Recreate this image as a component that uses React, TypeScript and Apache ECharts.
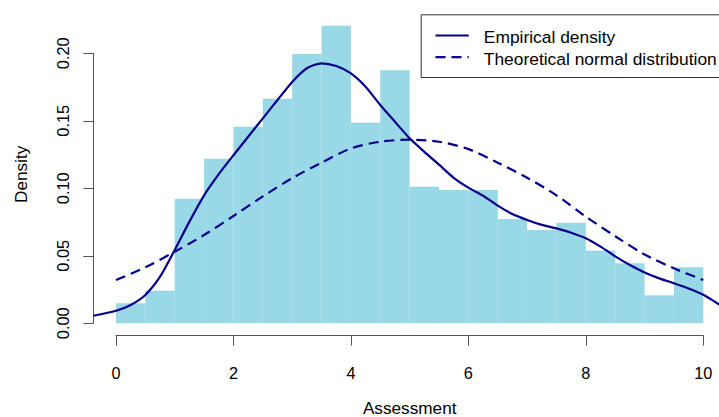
import React, { useEffect, useRef } from "react";
import * as echarts from "echarts";

// Histogram (density scale), bins of width 0.5 from 0 to 10
const binEdges = [0, 0.5, 1, 1.5, 2, 2.5, 3, 3.5, 4, 4.5, 5, 5.5, 6, 6.5, 7, 7.5, 8, 8.5, 9, 9.5, 10];
const densities = [
  0.0148, 0.0241, 0.0923, 0.1219, 0.1456, 0.1664, 0.1995, 0.2204, 0.1486, 0.1874,
  0.1012, 0.0987, 0.0987, 0.0773, 0.0691, 0.0745, 0.0538, 0.0444, 0.0207, 0.0415,
];

// Empirical (kernel) density curve
const empX = [
  -0.39, 0, 0.25, 0.5, 0.75, 1, 1.25, 1.5, 1.75, 2, 2.25, 2.5, 2.75, 3, 3.25, 3.5, 3.75, 4,
  4.25, 4.5, 4.75, 5, 5.25, 5.5, 5.75, 6, 6.25, 6.5, 6.75, 7, 7.25, 7.5, 7.75, 8, 8.25, 8.5,
  8.75, 9, 9.25, 9.5, 9.75, 10, 10.25, 10.4,
];
const empY = [
  0.0056, 0.0093, 0.0136, 0.021, 0.0345, 0.0543, 0.0753, 0.0948, 0.1105, 0.1245, 0.1382,
  0.1518, 0.1654, 0.1788, 0.1889, 0.1926, 0.1906, 0.1852, 0.1753, 0.1617, 0.1493, 0.137,
  0.127, 0.1175, 0.1078, 0.1005, 0.0945, 0.0872, 0.0809, 0.0765, 0.0729, 0.0703, 0.0671, 0.063,
  0.0568, 0.0496, 0.0432, 0.0377, 0.0333, 0.0297, 0.0258, 0.0212, 0.0145, 0.011,
];

// Theoretical normal distribution curve
const normX = [0, 0.5, 1, 1.5, 2, 2.5, 3, 3.5, 4, 4.5, 5, 5.5, 6, 6.5, 7, 7.5, 8, 8.5, 9, 9.5, 10];
const normY = [
  0.0321, 0.0415, 0.053, 0.0654, 0.0795, 0.094, 0.1075, 0.119, 0.1295, 0.1345, 0.136,
  0.1345, 0.129, 0.119, 0.1078, 0.0948, 0.079, 0.0645, 0.051, 0.0407, 0.0321,
];

const xTicks = { min: 0, max: 10, interval: 2 };
const yTicks = { min: 0, max: 0.2, interval: 0.05 };

const seriesNames = ["Empirical density", "Theoretical normal distribution"];
const xLabel = "Assessment";
const yLabel = "Density";

const NAVY = "#00008B";
const FONT = "'Liberation Sans', Arial, sans-serif";

export default function App() {
  const ref = useRef<HTMLDivElement>(null);

  useEffect(() => {
    if (!ref.current) return;
    const chart = echarts.init(ref.current, undefined, { renderer: "svg" });

    const histData = densities.map((d, i) => [binEdges[i], binEdges[i + 1], d]);
    const empData = empX.map((x, i) => [x, empY[i]]);
    const normData = normX.map((x, i) => [x, normY[i]]);

    // plot region in pixels (R-style); canvas is wider than the window so the
    // plot region can extend past the right edge as in the reference
    const W = 740, H = 417;
    const plotLeft = 93.3;
    const plotRight = 726;
    const plotTop = 13;
    const plotBottom = 335.7;
    const x0px = 116, x10px = 703.3;
    const y0px = 323.3, y20px = 53.3;
    const pxPerX = (x10px - x0px) / 10;
    const pxPerY = (y0px - y20px) / 0.2;
    const xMin = (plotLeft - x0px) / pxPerX;
    const xMax = (plotRight - x0px) / pxPerX;
    const yMin = -(plotBottom - y0px) / pxPerY;
    const yMax = (y0px - plotTop) / pxPerY;

    const option: any = {
      animation: false,
      textStyle: { fontFamily: FONT },
      grid: [
        { left: plotLeft, right: W - plotRight, top: plotTop, bottom: H - plotBottom },
        { left: x0px, right: W - x10px, top: plotTop, bottom: H - plotBottom },
        { left: plotLeft, right: W - plotRight, top: y20px, bottom: H - y0px },
      ],
      xAxis: [
        { gridIndex: 0, type: "value", min: xMin, max: xMax, show: false },
        {
          gridIndex: 1,
          type: "value",
          min: xTicks.min,
          max: xTicks.max,
          interval: xTicks.interval,
          position: "bottom",
          axisLine: { show: true, lineStyle: { color: "#555", width: 1 } },
          axisTick: { show: true, length: 10, lineStyle: { color: "#555", width: 1 } },
          axisLabel: { color: "#000", fontSize: 16.3, margin: 29, fontFamily: FONT },
          splitLine: { show: false },
        },
        { gridIndex: 2, type: "value", min: 0, max: 1, show: false },
      ],
      yAxis: [
        {
          gridIndex: 0,
          type: "value",
          min: yMin,
          max: yMax,
          show: true,
          axisLine: { show: false },
          axisTick: { show: false },
          axisLabel: { show: false },
          splitLine: { show: false },
          name: yLabel,
          nameLocation: "middle",
          nameGap: 64,
          nameTextStyle: { color: "#000", fontSize: 17.2, fontFamily: FONT },
        },
        { gridIndex: 1, type: "value", min: 0, max: 1, show: false },
        {
          gridIndex: 2,
          type: "value",
          min: yTicks.min,
          max: yTicks.max,
          interval: yTicks.interval,
          position: "left",
          axisLine: { show: true, lineStyle: { color: "#555", width: 1 } },
          axisTick: { show: true, length: 10, lineStyle: { color: "#555", width: 1 } },
          axisLabel: {
            color: "#000",
            fontSize: 16.3,
            rotate: 90,
            margin: 22,
            fontFamily: FONT,
            formatter: (v: number) => v.toFixed(2),
          },
          splitLine: { show: false },
        },
      ],
      series: [
        {
          type: "custom",
          xAxisIndex: 0,
          yAxisIndex: 0,
          data: histData,
          encode: { x: [0, 1], y: 2 },
          renderItem: (_params: any, api: any) => {
            const a = api.coord([api.value(0), api.value(2)]);
            const b = api.coord([api.value(1), 0]);
            return {
              type: "rect",
              shape: { x: a[0], y: a[1], width: b[0] - a[0], height: b[1] - a[1] },
              style: { fill: "#99d8e6" },
            };
          },
          z: 1,
        },
        {
          name: seriesNames[0],
          type: "line",
          xAxisIndex: 0,
          yAxisIndex: 0,
          data: empData,
          smooth: 0.25,
          symbol: "none",
          showSymbol: false,
          clip: true,
          lineStyle: { color: NAVY, width: 2.2 },
          z: 3,
        },
        {
          name: seriesNames[1],
          type: "line",
          xAxisIndex: 0,
          yAxisIndex: 0,
          data: normData,
          smooth: 0.3,
          symbol: "none",
          showSymbol: false,
          clip: true,
          lineStyle: { color: NAVY, width: 2.2, type: [10, 6] },
          z: 3,
        },
      ],
      graphic: [
        {
          type: "text",
          x: 409.7,
          y: 408.3,
          style: {
            text: xLabel,
            fill: "#000",
            font: `17.2px ${FONT}`,
            align: "center",
            verticalAlign: "middle",
          },
        },
        {
          type: "group",
          left: 420.7,
          top: 14.3,
          children: [
            {
              type: "rect",
              shape: { x: 0, y: 0, width: 320, height: 62.7 },
              style: { fill: "#fff", stroke: "#333", lineWidth: 1 },
            },
            {
              type: "line",
              shape: { x1: 14.3, y1: 20.7, x2: 47.6, y2: 20.7 },
              style: { stroke: NAVY, lineWidth: 2.2 },
            },
            {
              type: "line",
              shape: { x1: 14.3, y1: 42.4, x2: 47.6, y2: 42.4 },
              style: { stroke: NAVY, lineWidth: 2.2, lineDash: [10, 6] },
            },
            {
              type: "text",
              x: 62.6,
              y: 22.2,
              style: {
                text: seriesNames[0],
                fill: "#000",
                font: `17.4px ${FONT}`,
                verticalAlign: "middle",
              },
            },
            {
              type: "text",
              x: 62.6,
              y: 43.9,
              style: {
                text: seriesNames[1],
                fill: "#000",
                font: `17.4px ${FONT}`,
                verticalAlign: "middle",
              },
            },
          ],
        },
      ],
    };

    chart.setOption(option);
    return () => chart.dispose();
  }, []);

  return (
    <div
      ref={ref}
      style={{ position: "fixed", left: 0, top: 0, width: 740, height: 417, background: "#fff" }}
    />
  );
}
